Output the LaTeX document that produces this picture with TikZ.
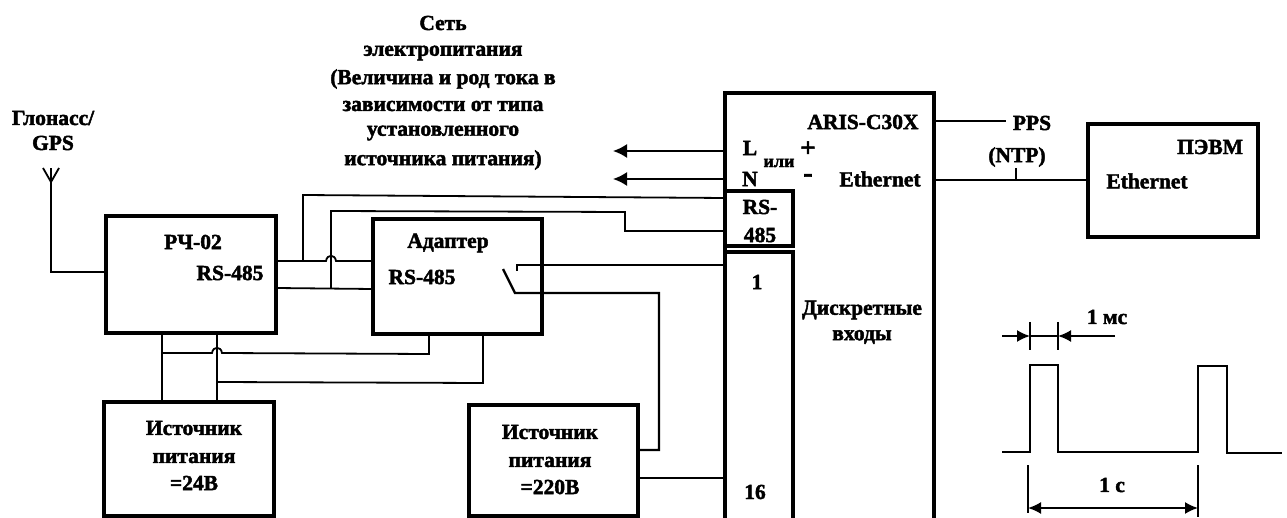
\documentclass[tikz,border=0pt]{standalone}
\usepackage{fontspec}
\setmainfont{Liberation Serif}[BoldFeatures={FakeBold=2}]
\usetikzlibrary{arrows.meta}
\tikzset{
  thickbox/.style={draw=black,line width=3.2pt,minimum width=#1,inner sep=0pt,outer sep=0pt,anchor=north west},
  lab/.style={font=\bfseries\fontsize{21.5}{24}\selectfont,inner sep=0pt,text=black},
  smalllab/.style={font=\bfseries\fontsize{18}{18}\selectfont,inner sep=0pt,text=black},
  signlab/.style={font=\bfseries\fontsize{27}{28}\selectfont,inner sep=0pt,text=black},
  wire/.style={draw=black,line width=1.8pt,line join=miter},
  hv/.style={draw=black,line width=3.2pt},
  bigarrow/.style={wire,-{Latex[length=14pt,width=14pt]}},
  dimarrow/.style={wire,-{Latex[length=13pt,width=12pt]}}
}
\begin{document}
\begin{tikzpicture}[x=1pt,y=-1pt]
\useasboundingbox (0,0) rectangle (1287,518);
% boxes
\node[thickbox=170pt,minimum height=117pt] (rch) at (106,216) {};
\node[thickbox=170pt,minimum height=114pt] (src24) at (104,402) {};
\node[thickbox=169pt,minimum height=115pt] (adapter) at (373,219) {};
\node[thickbox=169pt,minimum height=111pt] (src220) at (469,405) {};
\node[thickbox=170pt,minimum height=113pt] (pc) at (1088,124) {};
\coordinate (arisW) at (725,93);
\coordinate (arisE) at (934,93);
\draw[hv] (725,518) -- (arisW) -- (arisE) -- (934,518);
\node[thickbox=68pt,minimum height=55pt] (rs) at (725,191) {};
\draw[hv] (725,252) -- (793,252) -- (793,518);
\coordinate (inW) at (725,252);
% labels
\node[lab] (t1) at (443,23) {Сеть};
\node[lab] (t2) at (443,53) {электропитания};
\node[lab] (t3) at (443,79) {(Величина и род тока в};
\node[lab] (t4) at (443,106) {зависимости от типа};
\node[lab] (t5) at (443,133) {установленного};
\node[lab] (t6) at (443,160) {источника питания)};
\node[lab] (g1) at (53,118) {Глонасс/};
\node[lab] (g2) at (53,143) {GPS};
\node[lab] (rchA) at (193,242) {РЧ-02};
\node[lab] (rchB) at (230,273) {RS-485};
\node[lab] (adA) at (448,243) {Адаптер};
\node[lab] (adB) at (422,277) {RS-485};
\node[lab] (s24a) at (194,428) {Источник};
\node[lab] (s24b) at (194,458) {питания};
\node[lab] (s24c) at (194,483) {=24В};
\node[lab] (s220a) at (550,432) {Источник};
\node[lab] (s220b) at (550,462) {питания};
\node[lab] (s220c) at (550,487) {=220В};
\node[lab] (aA) at (863,122) {ARIS-C30X};
\node[lab] (aL) at (750,148) {L};
\node[lab] (aN) at (750,179) {N};
\node[smalllab] (aI) at (779,163) {или};
\node[signlab] (aP) at (808,149) {+};
\node[signlab] (aM) at (808,178) {-};
\node[lab] (aE) at (880,179) {Ethernet};
\node[lab] (rs1) at (760,207) {RS-};
\node[lab] (rs2) at (760,235) {485};
\node[lab] (n1) at (757,282) {1};
\node[lab] (n16) at (755,492) {16};
\node[lab] (dA) at (862,310) {Дискретные};
\node[lab] (dB) at (862,337) {входы};
\node[lab] (pps) at (1032,123) {PPS};
\node[lab] (ntp) at (1017,157) {(NTP)};
\node[lab] (pcA) at (1210,147) {ПЭВМ};
\node[lab] (pcB) at (1147,181) {Ethernet};
\node[lab] (ms) at (1107,317) {1 мс};
\node[lab] (sec) at (1112,485) {1 с};
% antenna
\coordinate (antTop) at (51,168);
\coordinate (antJ) at (51,182);
\draw[wire] (rch.west |- 0,272) -- (51,272) -- (antTop);
\draw[wire] (43,168) -- (antJ) -- (59,168);
% RS-485 wires
\draw[wire] (rch.east |- 0,261) -- (326,261) .. controls (327,254) and (335,254) .. (336,261) -- (adapter.west |- 0,261);
\draw[wire] (rch.east |- 0,288) -- (adapter.west |- 0,289);
\draw[wire] (303,261) -- (303,195) -- (rs.west |- 0,198);
\draw[wire] (331,288) -- (331,211) -- (625,212) -- (625,231) -- (rs.west |- 0,231);
% power wires under РЧ-02
\draw[wire] (rch.south -| 162,0) -- (src24.north -| 162,0);
\draw[wire] (rch.south -| 217,0) -- (src24.north -| 217,0);
\draw[wire] (162,353) -- (212,353) .. controls (213,346) and (221,346) .. (222,353) -- (429,354) -- (adapter.south -| 429,0);
\draw[wire] (217,382) -- (483,383) -- (adapter.south -| 483,0);
% switch
\draw[wire,line width=2.4pt] (517,271) -- (517,265) -- (inW |- 0,265);
\draw[wire,line width=2.4pt] (503,269) -- (515,293) -- (659,293) -- (659,450) -- (src220.east |- 0,450);
\draw[wire] (src220.east |- 0,478) -- (inW |- 0,478);
% arrows and right side
\draw[bigarrow] (arisW |- 0,151) -- (613,151);
\draw[bigarrow] (arisW |- 0,179) -- (613,179);
\draw[wire] (arisE |- 0,121) -- (1006,121);
\draw[wire] (arisE |- 0,180) -- (pc.west |- 0,180);
\draw[wire] (1016,168) -- (1016,180);
% pulses
\coordinate (p0) at (1002,452);
\coordinate (p1) at (1282,453);
\draw[wire] (p0) -- (1030,452) -- (1030,365) -- (1058,365) -- (1058,452) -- (1198,452) -- (1198,366) -- (1227,366) -- (1227,453) -- (p1);
\draw[wire] (1030,322) -- (1030,350);
\draw[wire] (1058,322) -- (1058,350);
\draw[wire] (1030,336) -- (1058,336);
\draw[dimarrow] (1002,336) -- (1030,336);
\draw[dimarrow] (1115,336) -- (1058,336);
\draw[wire] (1028,465) -- (1028,513);
\draw[wire] (1198,465) -- (1198,517);
\draw[wire,{Latex[length=13pt,width=12pt]}-{Latex[length=13pt,width=12pt]}] (1028,508) -- (1198,508);
\end{tikzpicture}
\end{document}
